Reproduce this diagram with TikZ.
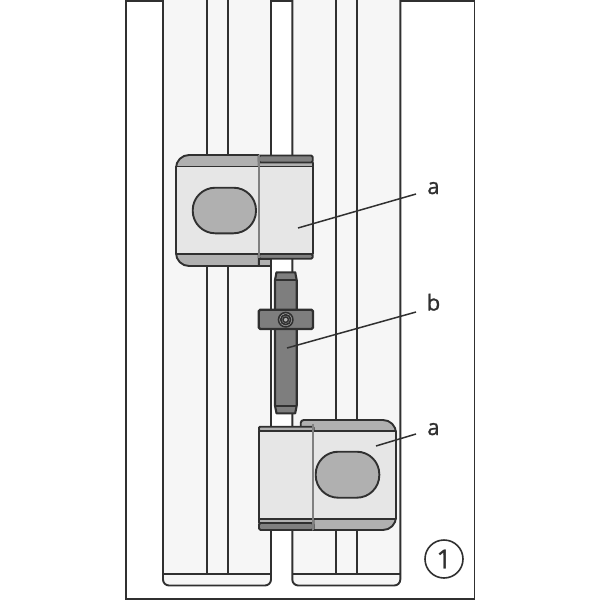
\documentclass[tikz,border=0pt]{standalone}
\usepackage{fontspec}
\setmainfont{Open Sans}[RawFeature={embolden=1.2}]
\definecolor{panel}{HTML}{F6F6F6}
\definecolor{body}{HTML}{E6E6E6}
\definecolor{band}{HTML}{B0B0B0}
\definecolor{darkband}{HTML}{808080}
\definecolor{pinc}{HTML}{7E7E7E}
\definecolor{ink}{HTML}{303030}
\tikzset{
  ln/.style={draw=ink,line width=1.9pt,line join=round},
  lab/.style={font=\fontsize{22}{22}\selectfont,text=ink,inner sep=0pt,anchor=base},
  lead/.style={draw=ink,line width=1.5pt}
}
\begin{document}
\begin{tikzpicture}[x=1pt,y=-1pt]
\useasboundingbox (0,0) rectangle (600,600);
\fill[white] (0,0) rectangle (600,600);
\draw[draw=ink,line width=1.6pt] (126,0.8) rectangle (474.4,599);
% panels
\foreach \l/\r/\a/\b in {163/271/206.7/227.7,292.3/400.3/335.7/357}{
  \path[ln,fill=panel] (\l,-2) [rounded corners=6pt] -- (\l,585.5) -- (\r,585.5) [sharp corners] -- (\r,-2);
  \draw[ln] (\l,574) -- (\r,574);
  \draw[ln] (\a,0) -- (\a,574) (\b,0) -- (\b,574);
}
% top hinge
\path[ln,fill=band] (258.7,254) rectangle (271,266);
\path[ln,fill=darkband] (258.7,254) rectangle (271,259);
\path[ln,fill=band] (258.7,155) [rounded corners=13pt] -- (176,155) -- (176,266) [sharp corners] -- (258.7,266) -- cycle;
\path[ln,fill=body] (176,166.5) rectangle (258.7,254);
\path[ln,fill=body] (258.7,166.5) rectangle (312.7,254);
\path[ln,fill=band] (258.7,162.5) rectangle (312.7,166.5);
\path[ln,fill=darkband,rounded corners=1.5pt] (258.7,155.5) rectangle (312.7,162.5);
\path[ln,fill=darkband,rounded corners=1.5pt] (258.7,254) rectangle (312.7,258.7);
\path[ln,fill=band,rounded corners=22.5pt] (192.7,187.7) rectangle (256,233.3);
\draw[draw=darkband,line width=1.9pt] (258.7,155) -- (258.7,258);
% pin
\path[ln,fill=pinc,line width=2.1pt] (275,280) -- (276.5,272.3) -- (295.2,272.3) -- (296.7,280) -- (296.7,405.7) -- (295.2,413.3) -- (276.5,413.3) -- (275,405.7) -- cycle;
\draw[ln] (275,280) -- (296.7,280) (275,405.7) -- (296.7,405.7);
\path[ln,fill=pinc,line width=2.3pt,rounded corners=1.5pt] (258.7,309.7) rectangle (313,329);
\path[ln,fill=band,line width=1.6pt] (285.7,319.7) circle[radius=7.2];
\path[ln,fill=darkband,line width=1.6pt] (285.7,319.7) circle[radius=5];
\path[ln,fill=band,line width=1.4pt] (285.7,319.7) circle[radius=2.7];
% bottom hinge
\path[ln,fill=band] (300.7,427) [rounded corners=3pt] -- (300.7,420) [rounded corners=13pt] -- (396,420) -- (396,530) [sharp corners] -- (313.3,530) -- (313.3,427) -- cycle;
\path[ln,fill=body] (313.3,431) rectangle (396,519);
\path[ln,fill=body] (259,431) rectangle (313.3,519);
\path[ln,fill=band,rounded corners=1pt] (259,426.7) rectangle (313.3,431);
\path[ln,fill=band] (259,519) rectangle (313.3,523);
\path[ln,fill=darkband,rounded corners=1.5pt] (259,523) rectangle (313.3,530);
\draw[draw=darkband,line width=1.9pt] (313.3,424) -- (313.3,530);
\path[ln,fill=band,rounded corners=22.5pt] (315.7,451.7) rectangle (379.3,497.7);
% labels and leaders
\node[lab] (a1) at (433.5,194) {a};
\node[lab] (b1) at (433.5,310.5) {b};
\node[lab] (a2) at (433.5,435) {a};
\coordinate (p1) at (298,228);
\coordinate (p2) at (287,348);
\coordinate (p3) at (376,446);
\coordinate (e1) at (416,194);
\coordinate (e2) at (416,312);
\coordinate (e3) at (416,434);
\draw[lead] (p1) -- (e1);
\draw[lead] (p2) -- (e2);
\draw[lead] (p3) -- (e3);
\node[draw=ink,line width=1.6pt,circle,minimum size=38pt,inner sep=0pt,font=\fontsize{26}{26}\selectfont,text=ink] (n1) at (444,559) {1};
\end{tikzpicture}
\end{document}
